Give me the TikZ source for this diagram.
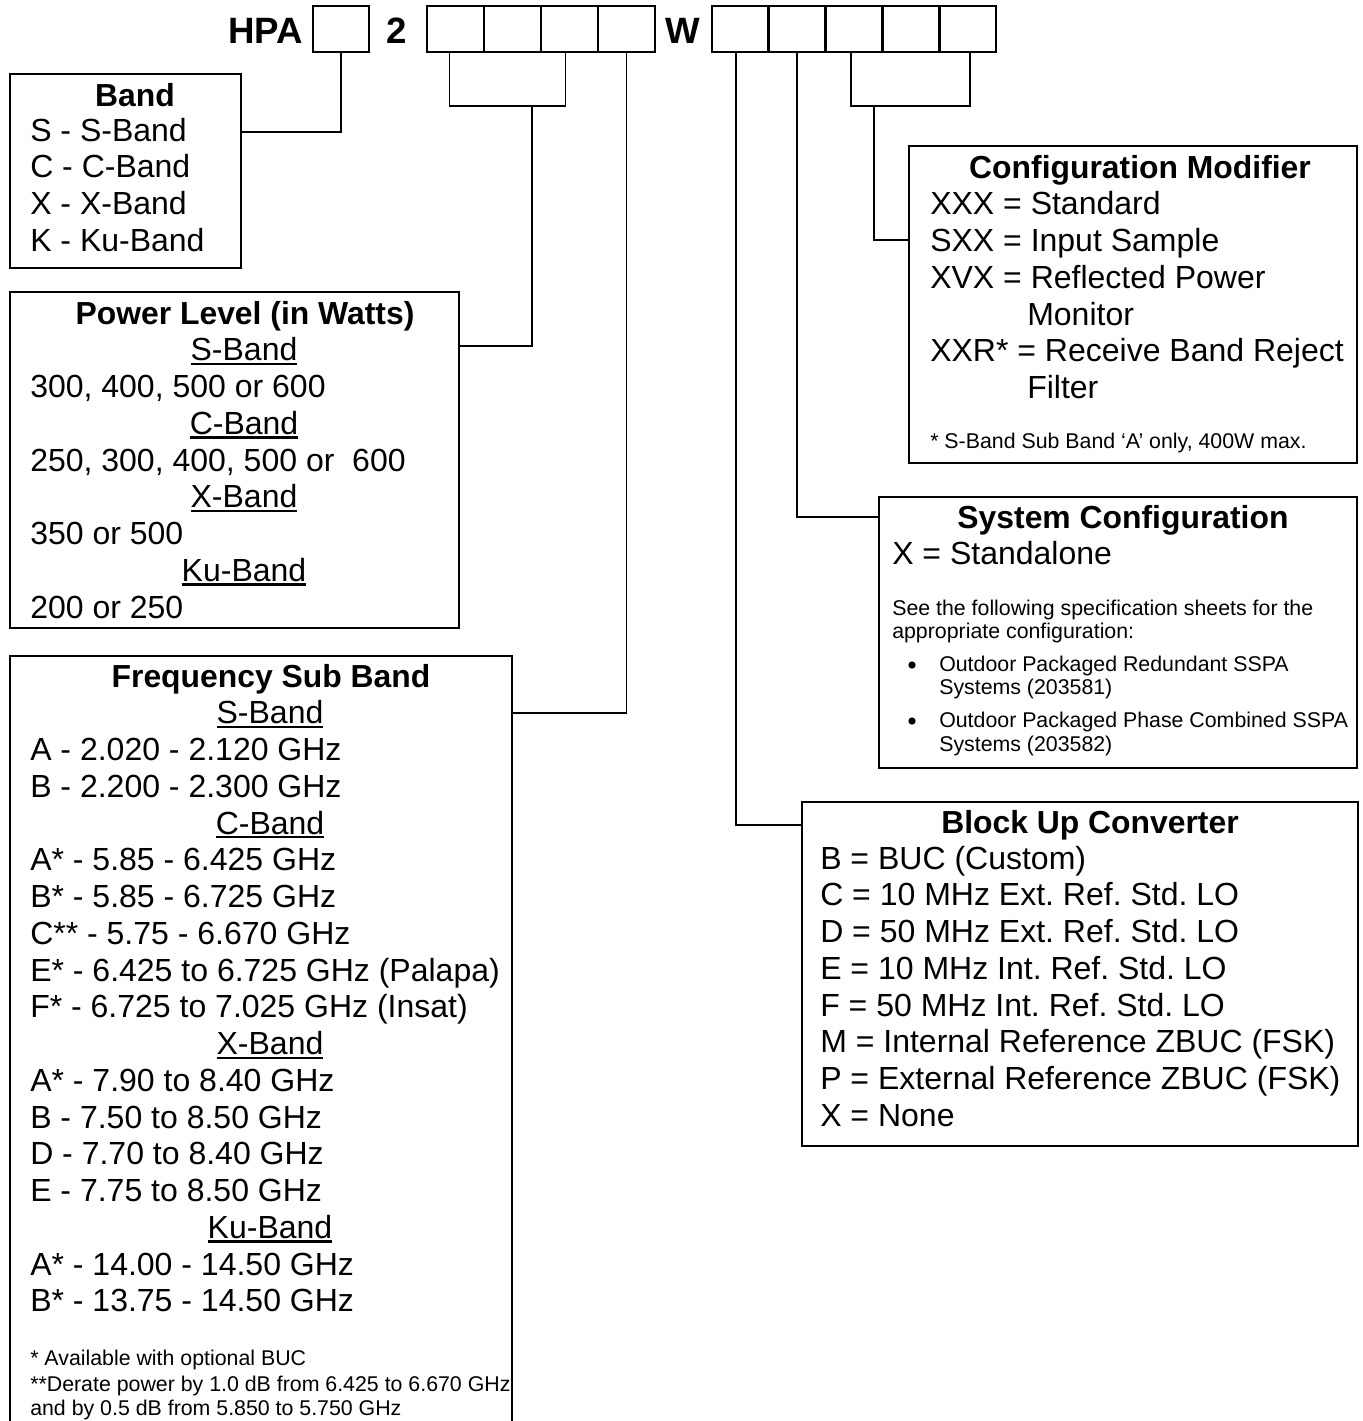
\documentclass[tikz,border=0pt]{standalone}
\usepackage{fontspec}
\setmainfont{Liberation Sans}
\usetikzlibrary{fit}
\frenchspacing

% underline with a heavier rule
\newcommand\bandul[1]{\setbox0\hbox{#1}\rlap{\rule[-3.2pt]{\wd0}{1.6pt}}\box0}

\tikzset{
  cell/.style={draw, line width=2pt, inner sep=0},
  infobox/.style={draw, line width=1.5pt, inner sep=0},
  link/.style={line width=1.4pt},
  code/.style={anchor=base, inner sep=0, font=\bfseries\fontsize{27.5}{30}\selectfont},
  ttl/.style={anchor=base, inner sep=0, font=\bfseries\fontsize{23.9}{28}\selectfont},
  txt/.style={anchor=base west, inner sep=0, font=\fontsize{24}{28}\selectfont},
  sub/.style={anchor=base, inner sep=0, font=\fontsize{24}{28}\selectfont},
  note/.style={anchor=base west, inner sep=0, font=\fontsize{16}{19}\selectfont},
  dot/.style={circle, fill, inner sep=0, minimum size=5.5pt},
}

\begin{document}
\begin{tikzpicture}[x=0.75pt,y=-0.75pt]
\useasboundingbox (0,0) rectangle (1363,1421);
\clip (0,0) rectangle (1363,1421);

% part number
\node[code, anchor=base east] (hpa) at (303,43) {HPA};
\node[cell, fit={(313,6) (369,52)}] (b1) {};
\node[code] (two) at (397,43) {2};
\foreach \i in {1,...,4}
  \node[cell, fit={({427+57*(\i-1)},6) ({427+57*\i},52)}] (p\i) {};
\node[code] (w) at (683,43) {W};
\foreach \i in {1,...,5}
  \node[cell, fit={({712+56.8*(\i-1)},6) ({712+56.8*\i},52)}] (w\i) {};

% boxes
\node[infobox, fit={(10,74) (241,268)}] (band) {};
\node[infobox, fit={(10,292) (459,628)}] (power) {};
\node[infobox, fit={(10,656) (512,1440)}] (freq) {};
\node[infobox, fit={(909,146) (1357,463)}] (cfgmod) {};
\node[infobox, fit={(879,497) (1357,768)}] (syscfg) {};
\node[infobox, fit={(802,802) (1358,1146)}] (buc) {};

% connectors
\draw[link] (b1.south) |- (band.east |- 0,132);
\draw[link] ([xshift=-4.5pt]p1.south) |- ([xshift=-3pt]p3.south |- 0,106) -- ([xshift=-3pt]p3.south);
\coordinate (pstem) at (532,106);
\draw[link] (pstem) |- (power.east |- 0,346);
\draw[link] (p4.south) |- (freq.east |- 0,713);
\draw[link] ([xshift=-3pt]w1.south) |- (buc.west |- 0,825);
\draw[link] (w2.south) |- (syscfg.west |- 0,517);
\draw[link] ([xshift=-2pt]w3.south) |- ([xshift=2pt]w5.south |- 0,106) -- ([xshift=2pt]w5.south);
\coordinate (cstem) at (874,106);
\draw[link] (cstem) |- (cfgmod.west |- 0,240);

% band
\node[ttl] (band-t) at (135,106) {Band};
\foreach \lbl [count=\row] in {S - S-Band, C - C-Band, X - X-Band, K - Ku-Band}
  \node[txt] (band-\row) at (30,{141+36.75*(\row-1)}) {\lbl};

% power level
\node[ttl] (power-t) at (245,324) {Power Level (in Watts)};
\foreach \row/\lbl in {1/S-Band, 3/C-Band, 5/X-Band, 7/Ku-Band}
  \node[sub] (pwh-\row) at (244,{324+36.75*\row}) {\bandul{\lbl}};
\foreach \row/\lbl in {2/{300, 400, 500 or 600}, 4/{250, 300, 400, 500 or \ 600},
    6/{350 or 500}, 8/{200 or 250}}
  \node[txt] (pw-\row) at (30,{324+36.75*\row}) {\lbl};

% frequency sub band
\node[ttl] (freq-t) at (271,687) {Frequency Sub Band};
\foreach \row/\lbl in {1/S-Band, 4/C-Band, 10/X-Band, 15/Ku-Band}
  \node[sub] (fqh-\row) at (270,{687+36.75*\row}) {\bandul{\lbl}};
\foreach \row/\lbl in {2/{A - 2.020 - 2.120 GHz}, 3/{B - 2.200 - 2.300 GHz},
    5/{A* - 5.85 - 6.425 GHz}, 6/{B* - 5.85 - 6.725 GHz}, 7/{C** - 5.75 - 6.670 GHz},
    8/{E* - 6.425 to 6.725 GHz (Palapa)}, 9/{F* - 6.725 to 7.025 GHz (Insat)},
    11/{A* - 7.90 to 8.40 GHz}, 12/{B - 7.50 to 8.50 GHz}, 13/{D - 7.70 to 8.40 GHz},
    14/{E - 7.75 to 8.50 GHz}, 16/{A* - 14.00 - 14.50 GHz}, 17/{B* - 13.75 - 14.50 GHz}}
  \node[txt] (fq-\row) at (30,{687+36.75*\row}) {\lbl};
\node[note] (fq-n1) at (30,1365) {* Available with optional BUC};
\node[note] (fq-n2) at (30,1391) {**Derate power by 1.0 dB from 6.425 to 6.670 GHz};
\node[note] (fq-n3) at (30,1415) {and by 0.5 dB from 5.850 to 5.750 GHz};

% configuration modifier
\node[ttl] (cfgmod-t) at (1140,178) {Configuration Modifier};
\foreach \row/\lbl in {1/{XXX = Standard}, 2/{SXX = Input Sample},
    3/{XVX = Reflected Power}, 5/{XXR* = Receive Band Reject}}
  \node[txt] (cm-\row) at (930,{178+36.75*\row}) {\lbl};
\foreach \row/\lbl in {4/Monitor, 6/Filter}
  \node[txt] (cm-\row) at (1027,{178+36.75*\row}) {\lbl};
\node[note] (cm-n) at (930,448) {* S-Band Sub Band ‘A’ only, 400W max.};

% system configuration
\node[ttl] (syscfg-t) at (1123,528) {System Configuration};
\node[txt] (sc-1) at (892,564) {X = Standalone};
\node[note] (sc-n1) at (892,615) {See the following specification sheets for the};
\node[note] (sc-n2) at (892,638) {appropriate configuration:};
\node[dot] (sc-b1) at (912,665) {};
\node[note] (sc-i1) at (939,671) {Outdoor Packaged Redundant SSPA};
\node[note] (sc-i1b) at (939,694) {Systems (203581)};
\node[dot] (sc-b2) at (912,721) {};
\node[note] (sc-i2) at (939,727) {Outdoor Packaged Phase Combined SSPA};
\node[note] (sc-i2b) at (939,751) {Systems (203582)};

% block up converter
\node[ttl] (buc-t) at (1090,833) {Block Up Converter};
\foreach \lbl [count=\row] in {B = BUC (Custom), C = 10 MHz Ext. Ref. Std. LO,
    D = 50 MHz Ext. Ref. Std. LO, E = 10 MHz Int. Ref. Std. LO,
    F = 50 MHz Int. Ref. Std. LO, M = Internal Reference ZBUC (FSK),
    P = External Reference ZBUC (FSK), X = None}
  \node[txt] (bu-\row) at (820,{869+36.75*(\row-1)}) {\lbl};
\end{tikzpicture}
\end{document}
